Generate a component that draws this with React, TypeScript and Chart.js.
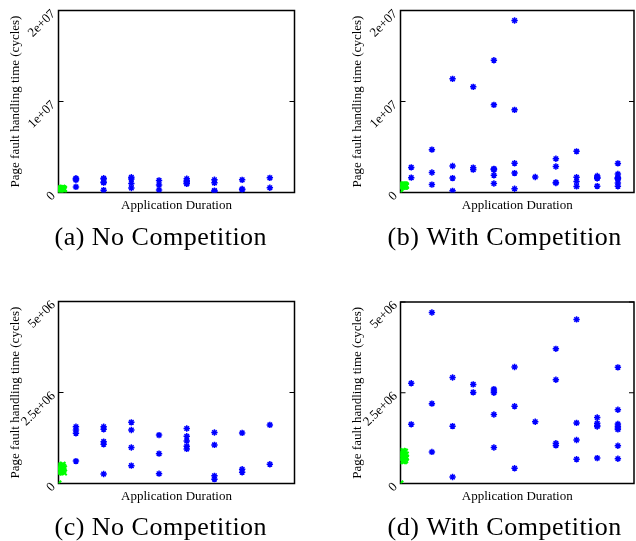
import { useEffect, useRef } from "react";
import { Chart, registerables } from "chart.js";

Chart.register(...registerables);

// ---- Data ----
// "No Competition" runs: application columns (x) and page-fault handling times (cycles)
const NC_COLUMN_X = [0.63, 1.63, 2.63, 3.63, 4.63, 5.63, 6.63, 7.63];
const NC_COLUMN_Y = [
  [1.56e6, 1.47e6, 1.38e6, 0.615e6],
  [1.56e6, 1.49e6, 1.15e6, 1.08e6, 0.26e6],
  [1.68e6, 1.47e6, 0.99e6, 0.49e6],
  [1.33e6, 0.82e6, 0.27e6],
  [1.51e6, 1.3e6, 1.17e6, 1.02e6, 0.95e6],
  [1.4e6, 1.06e6, 0.21e6, 0.12e6],
  [1.39e6, 0.39e6, 0.31e6],
  [1.61e6, 0.53e6],
];
const NC_X_MAX = 8.52;

// "With Competition" runs
const WC_COLUMN_X = [0.52, 1.52, 2.52, 3.52, 4.52, 5.52, 6.52, 7.52, 8.52, 9.52, 10.52];
const WC_COLUMN_Y = [
  [2.76e6, 1.63e6],
  [4.71e6, 2.2e6, 0.87e6],
  [12.49e6, 2.92e6, 1.58e6, 0.18e6],
  [11.61e6, 2.73e6, 2.51e6],
  [14.54e6, 9.63e6, 2.6e6, 2.55e6, 2.5e6, 1.9e6, 0.99e6],
  [18.9e6, 9.08e6, 3.21e6, 2.13e6, 0.42e6],
  [1.7e6],
  [3.71e6, 2.86e6, 1.11e6, 1.05e6],
  [4.52e6, 1.67e6, 1.2e6, 0.67e6],
  [1.82e6, 1.66e6, 1.6e6, 1.57e6, 0.7e6],
  [3.2e6, 2.03e6, 1.64e6, 1.58e6, 1.53e6, 1.49e6, 1.04e6, 0.68e6],
];
const WC_X_MAX = 11.3;

// Green (short) runs clustered near the origin
const NC_GREEN_X = [0, 0.05, 0.1, 0.15, 0.2, 0.02, 0.07, 0.12, 0.18, 0, 0.06, 0.11, 0.17, 0.03, 0.09, 0.15, 0.01, 0.08, 0.13, 0.2, 0];
const NC_GREEN_Y = [0.3e6, 0.32e6, 0.31e6, 0.34e6, 0.3e6, 0.38e6, 0.36e6, 0.4e6, 0.37e6, 0.44e6, 0.45e6, 0.43e6, 0.46e6, 0.51e6, 0.5e6, 0.52e6, 0.41e6, 0.34e6, 0.48e6, 0.42e6, 0];
const WC_GREEN_X = [0.1, 0.16, 0.22, 0.06, 0.12, 0.18, 0.26, 0.08, 0.14, 0.2, 0.27, 0.06, 0.13, 0.19, 0.25, 0.1, 0.17, 0.23, 0.15, 0.12, 0];
const WC_GREEN_Y = [0.9e6, 0.89e6, 0.88e6, 0.84e6, 0.82e6, 0.85e6, 0.8e6, 0.76e6, 0.74e6, 0.77e6, 0.72e6, 0.68e6, 0.69e6, 0.66e6, 0.7e6, 0.62e6, 0.61e6, 0.64e6, 0.78e6, 0.71e6, 0];

const FULL_TICKS = [0, 1e7, 2e7];
const FULL_TICK_LABELS = ["0", "1e+07", "2e+07"];
const FULL_Y_MAX = 2e7;
const ZOOM_TICKS = [0, 2.5e6, 5e6];
const ZOOM_TICK_LABELS = ["0", "2.5e+06", "5e+06"];
const ZOOM_Y_MAX = 5e6;

const CAPTIONS = ["(a) No Competition", "(b) With Competition", "(c) No Competition", "(d) With Competition"];
const X_TITLE = "Application Duration";
const Y_TITLE = "Page fault handling time (cycles)";

const BLUE = "#0000ff";
const GREEN = "#00ff00";
const SERIF = '"Liberation Serif", "Times New Roman", serif';

type Panel = {
  left: number;
  top: number;
  width: number;
  height: number;
  pad: { left: number; top: number; right: number; bottom: number };
  set: "nc" | "wc";
  yMax: number;
  ticks: number[];
  tickLabels: string[];
  caption: string;
  captionX: number;
  captionY: number;
};

const PANELS: Panel[] = [
  { left: 0, top: 0, width: 318, height: 260, pad: { left: 58.5, top: 10.5, right: 23.5, bottom: 67.5 }, set: "nc", yMax: FULL_Y_MAX, ticks: FULL_TICKS, tickLabels: FULL_TICK_LABELS, caption: CAPTIONS[0], captionX: 160.8, captionY: 244.8 },
  { left: 318, top: 0, width: 322, height: 260, pad: { left: 82.5, top: 10.5, right: 2.5, bottom: 67.5 }, set: "wc", yMax: FULL_Y_MAX, ticks: FULL_TICKS, tickLabels: FULL_TICK_LABELS, caption: CAPTIONS[1], captionX: 186.7, captionY: 244.8 },
  { left: 0, top: 260, width: 318, height: 281, pad: { left: 58.5, top: 41.5, right: 23.5, bottom: 57.5 }, set: "nc", yMax: ZOOM_Y_MAX, ticks: ZOOM_TICKS, tickLabels: ZOOM_TICK_LABELS, caption: CAPTIONS[2], captionX: 160.8, captionY: 274.6 },
  { left: 318, top: 260, width: 322, height: 281, pad: { left: 82.5, top: 42, right: 2.5, bottom: 57.5 }, set: "wc", yMax: ZOOM_Y_MAX, ticks: ZOOM_TICKS, tickLabels: ZOOM_TICK_LABELS, caption: CAPTIONS[3], captionX: 186.7, captionY: 274.6 },
];

function columnsToPoints(xs: number[], ys: number[][]) {
  const pts: { x: number; y: number }[] = [];
  xs.forEach((x, i) => ys[i].forEach((y) => pts.push({ x, y })));
  return pts;
}

function pairs(xs: number[], ys: number[]) {
  return xs.map((x, i) => ({ x, y: ys[i] }));
}

function PanelChart({ p }: { p: Panel }) {
  const ref = useRef<HTMLCanvasElement | null>(null);
  useEffect(() => {
    if (!ref.current) return;
    const blue = p.set === "nc" ? columnsToPoints(NC_COLUMN_X, NC_COLUMN_Y) : columnsToPoints(WC_COLUMN_X, WC_COLUMN_Y);
    const green = p.set === "nc" ? pairs(NC_GREEN_X, NC_GREEN_Y) : pairs(WC_GREEN_X, WC_GREEN_Y);
    const xMax = p.set === "nc" ? NC_X_MAX : WC_X_MAX;

    const framePlugin = {
      id: "gnuFrame",
      beforeDatasetsDraw(chart: any) {
        const { ctx, chartArea } = chart;
        const { left, right, top, bottom } = chartArea;
        const y = chart.scales.y;
        ctx.save();
        ctx.strokeStyle = "#000";
        ctx.lineWidth = 1.5;
        ctx.strokeRect(left, top, right - left, bottom - top);
        ctx.lineWidth = 1.2;
        p.ticks.forEach((v) => {
          const py = y.getPixelForValue(v);
          ctx.beginPath();
          ctx.moveTo(left, py);
          ctx.lineTo(left + 5, py);
          ctx.moveTo(right, py);
          ctx.lineTo(right - 5, py);
          ctx.stroke();
        });
        ctx.fillStyle = "#000";
        ctx.font = `13px ${SERIF}`;
        p.ticks.forEach((v, i) => {
          const py = y.getPixelForValue(v);
          ctx.save();
          ctx.translate(left - 5, py + 1.5);
          ctx.rotate(-Math.PI / 4);
          ctx.textAlign = "right";
          ctx.textBaseline = "middle";
          ctx.fillText(p.tickLabels[i], 0, 0);
          ctx.restore();
        });
        ctx.textAlign = "center";
        ctx.textBaseline = "alphabetic";
        ctx.fillText(X_TITLE, (left + right) / 2, bottom + 16);
        ctx.save();
        ctx.translate(left - 40, (top + bottom) / 2);
        ctx.rotate(-Math.PI / 2);
        ctx.fillText(Y_TITLE, 0, 0);
        ctx.restore();
        ctx.font = `26px ${SERIF}`;
        (ctx as any).letterSpacing = "0.5px";
        ctx.fillText(p.caption, p.captionX, p.captionY);
        ctx.restore();
      },
    };

    const chart = new Chart(ref.current, {
      type: "scatter",
      data: {
        datasets: [
          {
            data: green,
            pointStyle: "crossRot",
            pointRadius: 3.8,
            borderColor: GREEN,
            backgroundColor: GREEN,
            borderWidth: 2,
          },
          {
            data: blue,
            pointStyle: "star",
            pointRadius: 3.2,
            borderColor: BLUE,
            backgroundColor: BLUE,
            borderWidth: 1.5,
          },
        ],
      },
      options: {
        animation: false,
        responsive: false,
        devicePixelRatio: 1,
        layout: { padding: p.pad },
        scales: {
          x: { type: "linear", min: 0, max: xMax, display: false },
          y: { type: "linear", min: 0, max: p.yMax, display: false },
        },
        plugins: { legend: { display: false }, tooltip: { enabled: false } },
        events: [],
      },
      plugins: [framePlugin],
    });
    return () => chart.destroy();
  }, [p]);
  return (
    <canvas
      ref={ref}
      width={p.width}
      height={p.height}
      style={{ position: "absolute", left: p.left, top: p.top, width: p.width, height: p.height }}
    />
  );
}

export default function App() {
  return (
    <div style={{ position: "absolute", left: 0, top: 0, width: 636, height: 541, overflow: "hidden", background: "#fff" }}>
      {PANELS.map((p, i) => (
        <PanelChart key={i} p={p} />
      ))}
    </div>
  );
}
